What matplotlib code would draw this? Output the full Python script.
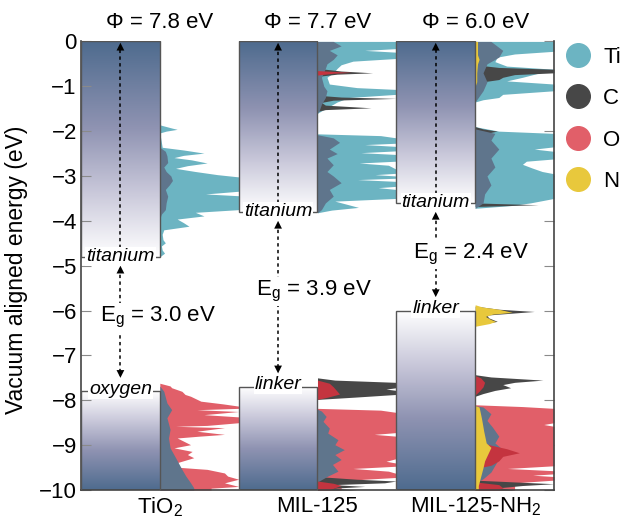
import matplotlib
matplotlib.use('Agg')
import matplotlib.pyplot as plt
import matplotlib as mpl
import numpy as np
from matplotlib.lines import Line2D
from matplotlib.patches import Rectangle

plt.rcParams['font.family'] = ['Liberation Sans', 'DejaVu Sans']
plt.rcParams['mathtext.fontset'] = 'custom'
plt.rcParams['mathtext.rm'] = 'Liberation Sans'
plt.rcParams['mathtext.it'] = 'Liberation Sans:italic'

# materials and band edges (eV)
materials = ['TiO$_2$', 'MIL-125', 'MIL-125-NH$_2$']
work_function = [7.8, 7.7, 6.0]
band_gap = [3.0, 3.9, 2.4]
cb_label = ['titanium', 'titanium', 'titanium']
vb_label = ['oxygen', 'linker', 'linker']
elements = ['Ti', 'C', 'O', 'N']
element_colors = ['#6cb4c2', '#474747', '#e15f69', '#e8c83c']
mix_color = '#5f758c'     # overlap of the partial DOS near the axis
o_dark = '#c4343f'

# --- projected DOS (fraction of panel width) ---
# TiO2
tio2_ti_E = [-1.86, -1.93, -1.96, -2.0, -2.04, -2.36, -2.42, -2.49, -2.54, -2.59,
             -2.64, -2.71, -2.77, -2.83, -2.9, -2.97, -3.02, -3.34, -3.40, -3.44,
             -3.75, -3.81, -3.89, -3.96, -4.04, -4.12, -4.2, -4.3, -4.42, -4.49,
             -4.56, -4.65, -4.72, -4.8]
tio2_ti = [0, 0.15, 0.22, 0.08, 0, 0.03, 0.3, 0.56, 0.3, 0.18,
           0.4, 0.6, 0.35, 0.2, 0.45, 0.73, 1.2, 1.2, 0.58, 1.2,
           1.2, 0.45, 0.56, 0.22, 0.3, 0.37, 0.05, 0.03, 0.04, 0.07,
           0.02, 0.03, 0.06, 0]
tio2_o_E = [-7.62, -7.68, -7.72, -7.8, -7.87, -7.91, -8.02, -8.08, -8.13, -8.18,
            -8.21, -8.25, -8.32, -8.37, -8.50, -8.56, -8.58, -8.61, -8.66, -8.69,
            -8.76, -8.8, -8.84, -8.91, -8.99, -9.06, -9.14, -9.21, -9.28, -9.39,
            -9.47, -9.54, -9.62, -9.69, -9.76, -9.84, -9.92, -9.96, -10]
tio2_o = [0, 0.13, 0.15, 0.28, 0.32, 0.39, 0.52, 0.8, 1.2, 1.2,
          0.47, 1.2, 0.56, 1.2, 1.2, 0.6, 0.2, 0.82, 0.6, 0.47,
          0.82, 0.5, 0.22, 0.3, 0.39, 0.18, 0.41, 0.35, 0.43, 0.22,
          0.05, 0.6, 0.82, 0.86, 1.2, 0.82, 1.2, 0.65, 0.65]
tio2_o_cb_E = [-2.36, -2.45, -2.55, -2.7, -2.8, -2.9, -3.0, -3.1, -3.2, -3.3,
               -3.45, -3.6, -3.75, -3.85, -3.95]
tio2_o_cb = [0, 0.07, 0.09, 0.1, 0.05, 0.08, 0.14, 0.16, 0.12, 0.07,
             0.1, 0.08, 0.07, 0.02, 0]
tio2_ti_vb_E = [-7.68, -7.8, -8.06, -8.21, -8.39, -8.65, -8.84, -9.06, -9.28, -9.54,
                -9.69, -9.84, -9.95, -10]
tio2_ti_vb = [0, 0.05, 0.09, 0.15, 0.09, 0.13, 0.11, 0.13, 0.2, 0.28,
              0.33, 0.39, 0.43, 0.43]

# MIL-125
mil_ti_E = [0, -0.16, -0.2, -0.24, -0.38, -0.44, -0.52, -0.6, -0.7, -0.8,
            -0.95, -1.03, -1.07, -1.18, -1.25, -1.35, -1.45, -1.55, -1.6, -2.06,
            -2.1, -2.15, -2.27, -2.30, -2.34, -2.44, -2.48, -2.52, -2.67, -2.71,
            -2.76, -2.85, -2.94, -2.97, -3.0, -3.05, -3.08, -3.12, -3.23, -3.26,
            -3.3, -3.5, -3.56, -3.62, -3.7, -3.76, -3.82]
mil_ti = [1.2, 1.2, 0.6, 1.2, 1.2, 0.45, 0.3, 0.25, 0.2, 0.12,
          0.15, 0.5, 1.2, 1.2, 0.4, 0.25, 0.15, 0.05, 0, 0,
          0.8, 1.2, 1.2, 0.6, 1.2, 1.2, 0.55, 1.2, 1.2, 0.53,
          0.9, 1.2, 1.2, 0.73, 1.2, 1.2, 0.51, 1.2, 1.2, 0.77,
          1.2, 1.2, 0.22, 0.35, 0.52, 0.18, 0]
mil_o_E = [-8.18, -8.22, -8.27, -8.72, -8.76, -8.8, -9.3, -9.36, -9.4, -9.47,
           -9.52, -9.58, -9.63, -9.72, -9.76, -9.8, -9.86, -9.92, -10]
mil_o = [0, 0.8, 1.2, 1.2, 0.72, 1.2, 1.2, 0.87, 1.2, 1.2,
         0.45, 0.9, 1.2, 1.2, 0.6, 0.3, 0.2, 0.3, 0.3]
mil_c_E = [-0.6, -0.66, -0.70, -0.73, -0.78, -1.2, -1.24, -1.27, -1.31, -1.36,
           -1.42, -1.48, -1.52, -1.56, -7.5, -7.55, -7.6, -7.72, -7.75, -7.78,
           -7.87, -7.93, -7.98, -9.7, -9.76, -9.8, -9.84, -9.88, -9.92, -9.96, -10]
mil_c = [0, 0.3, 0.7, 0.25, 0, 0, 0.3, 1.2, 0.2, 0.05,
         0.1, 0.68, 0.1, 0, 0, 0.22, 1.2, 1.2, 0.87, 1.2,
         1.2, 0.47, 0, 0, 0.5, 1.2, 0.85, 0.2, 0.6, 0.2, 0.5]
mil_o_in_E = [-0.65, -0.69, -0.71, -0.75, -7.55, -7.62, -7.7, -7.8, -7.86, -7.93,
              -7.98, -9.8, -9.85, -9.9, -9.95, -10]
mil_o_in = [0, 0.43, 0.2, 0, 0, 0.15, 0.2, 0.25, 0.28, 0.13,
            0, 0, 0.2, 0.3, 0.22, 0.15]
mil_mix_E = [0, -0.1, -0.2, -0.3, -0.4, -0.5, -0.6, -0.8, -1.0, -1.1,
             -1.25, -1.4, -1.55, -1.6, -2.08, -2.15, -2.25, -2.4, -2.5, -2.6,
             -2.75, -2.9, -3.0, -3.15, -3.3, -3.45, -3.6, -3.75, -3.82,
             -8.2, -8.24, -8.36, -8.47, -8.62, -8.73, -8.88, -8.99, -9.10, -9.21,
             -9.32, -9.43, -9.58, -9.69, -9.77, -9.82]
mil_mix = [0.2, 0.3, 0.15, 0.25, 0.2, 0.12, 0.1, 0.05, 0.08, 0.12,
           0.1, 0.05, 0.02, 0, 0, 0.2, 0.28, 0.15, 0.25, 0.12,
           0.2, 0.12, 0.2, 0.3, 0.15, 0.2, 0.1, 0.05, 0,
           0, 0.05, 0.11, 0.07, 0.15, 0.13, 0.26, 0.22, 0.34, 0.22,
           0.3, 0.19, 0.26, 0.13, 0.05, 0]

# MIL-125-NH2
nh2_ti_E = [0, -0.22, -0.28, -0.35, -0.45, -0.55, -0.62, -0.8, -0.88, -0.95,
            -1.1, -1.18, -1.25, -1.3, -1.35, -1.9, -2.0, -2.05, -2.35, -2.4,
            -2.45, -2.62, -2.67, -2.74, -2.82, -2.9, -2.95, -3.5, -3.55, -3.6,
            -3.66, -3.72]
nh2_ti = [1.2, 1.2, 0.5, 0.28, 0.25, 0.4, 1.2, 0.6, 0.4, 1.2,
          1.2, 0.35, 0.3, 0.1, 0, 0, 0.3, 1.2, 1.2, 0.75,
          1.2, 1.2, 0.65, 0.6, 0.72, 0.85, 1.2, 1.2, 0.85, 0.7,
          0.45, 0]
nh2_o_E = [-8.1, -8.14, -8.18, -8.5, -8.54, -8.58, -9.46, -9.52, -9.57, -9.64,
           -9.67, -9.7, -9.78, -9.84, -10]
nh2_o = [0, 0.6, 1.2, 1.2, 0.87, 1.2, 1.2, 0.41, 1.2, 1.2,
         0.73, 1.2, 1.2, 0.5, 0.5]
nh2_c_E = [-0.52, -0.58, -0.62, -0.7, -0.74, -0.8, -0.85, -0.9, -0.95, -1.9,
           -1.95, -2.0, -2.06, -2.1, -3.6, -3.64, -3.68,
           -5.9, -5.97, -6.02, -6.06, -6.1, -6.16, -6.24, -6.28, -6.32,
           -7.43, -7.48, -7.55, -7.6, -7.65, -7.72, -7.78, -7.85, -7.91,
           -9.78, -9.82, -9.86, -9.9, -9.95, -10]
nh2_c = [0, 0.3, 1.2, 1.2, 0.5, 0.35, 0.3, 0.1, 0, 0,
         0.1, 0.28, 0.1, 0, 0, 0.8, 0,
         0, 0.3, 0.75, 0.45, 0.15, 0.17, 0.28, 0.15, 0,
         0, 0.2, 0.86, 0.5, 0.35, 0.45, 0.25, 0.1, 0,
         0, 0.5, 1.2, 0.6, 0.3, 0.5]
nh2_mix_E = [0, -0.2, -0.35, -0.5, -0.7, -0.9, -1.1, -1.3, -1.35, -1.95,
             -2.05, -2.2, -2.4, -2.6, -2.8, -3.0, -3.2, -3.4, -3.6, -3.72,
             -8.12, -8.15, -8.3, -8.45, -8.6, -8.8, -8.95, -9.1, -9.3, -9.45,
             -9.6, -9.75, -9.85]
nh2_mix = [0.2, 0.35, 0.3, 0.15, 0.1, 0.15, 0.1, 0.02, 0, 0,
           0.25, 0.2, 0.3, 0.2, 0.25, 0.15, 0.2, 0.12, 0.1, 0,
           0, 0.1, 0.2, 0.15, 0.22, 0.3, 0.25, 0.35, 0.3, 0.25,
           0.2, 0.1, 0]
nh2_o_in_E = [-7.45, -7.5, -7.6, -7.7, -7.8, -7.88, -8.9, -9.0, -9.08, -9.17,
              -9.25, -9.35, -9.45, -9.52, -9.82, -9.88, -9.95, -10]
nh2_o_in = [0, 0.07, 0.12, 0.1, 0.05, 0, 0, 0.2, 0.4, 0.56,
            0.35, 0.3, 0.2, 0, 0, 0.3, 0.35, 0.3]
nh2_n_E = [0, -0.3, -0.4, -0.5, -0.7, -0.9, -1.0,
           -5.87, -5.92, -5.97, -6.04, -6.08, -6.13, -6.2, -6.24, -6.29, -6.35,
           -8.12, -8.15, -8.4, -8.7, -8.95, -9.05, -9.2, -9.35, -9.5, -9.7, -9.9, -10]
nh2_n = [0.03, 0.03, 0.05, 0.03, 0.02, 0.02, 0,
         0, 0.09, 0.3, 0.47, 0.22, 0.13, 0.2, 0.26, 0.18, 0,
         0, 0.05, 0.08, 0.11, 0.14, 0.2, 0.16, 0.12, 0.1, 0.07, 0.04, 0.04]

ti_c, c_c, o_c, n_c = element_colors
layers = [
    [(tio2_ti_E, tio2_ti, ti_c), (tio2_o_E, tio2_o, o_c),
     (tio2_o_cb_E, tio2_o_cb, mix_color), (tio2_ti_vb_E, tio2_ti_vb, mix_color)],
    [(mil_ti_E, mil_ti, ti_c), (mil_o_E, mil_o, o_c), (mil_c_E, mil_c, c_c),
     (mil_mix_E, mil_mix, mix_color), (mil_o_in_E, mil_o_in, o_dark)],
    [(nh2_ti_E, nh2_ti, ti_c), (nh2_o_E, nh2_o, o_c), (nh2_c_E, nh2_c, c_c),
     (nh2_mix_E, nh2_mix, mix_color), (nh2_o_in_E, nh2_o_in, o_dark),
     (nh2_n_E, nh2_n, n_c)],
]

band_cmap = mpl.colors.LinearSegmentedColormap.from_list(
    'band', [(0, '#ffffff'), (0.3, '#c9c8da'), (0.6, '#8f93b2'), (1, '#4e6b8e')])
grad = np.linspace(0, 1, 256).reshape(-1, 1)

fig = plt.figure(figsize=(6.24, 5.21), dpi=100)
ax = fig.add_axes([0.1298, 0.0595, 0.758, 0.861])
edge = '#555555'

for i, name in enumerate(materials):
    x0 = 2 * i
    vbm = -work_function[i]
    cbm = vbm + band_gap[i]

    # gradient boxes for conduction and valence band
    ax.imshow(grad, extent=[x0, x0 + 1, cbm, 0], origin='lower', cmap=band_cmap,
              aspect='auto', zorder=1)
    ax.imshow(grad[::-1], extent=[x0, x0 + 1, -10, vbm], origin='lower', cmap=band_cmap,
              aspect='auto', zorder=1)
    ax.add_patch(Rectangle((x0, cbm), 1, -cbm, fill=False, ec=edge, lw=1, zorder=3))
    ax.add_patch(Rectangle((x0, -10), 1, vbm + 10, fill=False, ec=edge, lw=1, zorder=3))

    # projected DOS next to the box
    for E, V, col in layers[i]:
        ax.fill_betweenx(E, x0 + 1, x0 + 1 + np.minimum(V, 1.0), color=col, lw=0, zorder=2)

    ax.text(x0 + 0.5, cbm, cb_label[i], ha='center', va='center', fontsize=14,
            style='italic', zorder=5,
            bbox=dict(boxstyle='square,pad=0.05', fc='white', ec='none'))
    ax.text(x0 + 0.5, vbm + 0.05, vb_label[i], ha='center', va='center', fontsize=14,
            style='italic', zorder=5,
            bbox=dict(boxstyle='square,pad=0.05', fc='white', ec='none'))

    # dashed arrows: work function and gap
    xm = x0 + 0.5
    ax.plot([xm, xm], [cbm + 0.2, -0.1], ls=(0, (2.2, 2.2)), color='k', lw=1.1, zorder=4)
    ax.plot([xm, xm], [cbm - 0.25, vbm + 0.35], ls=(0, (2.2, 2.2)), color='k', lw=1.1, zorder=4)
    heads = [(-0.03, -0.3), (cbm - 0.2, cbm - 0.5), (vbm + 0.3, vbm + 0.6)]
    for tip, tail in heads:
        ax.annotate('', xy=(xm, tip), xytext=(xm, tail),
                    arrowprops=dict(arrowstyle='-|>', color='k', lw=0,
                                    mutation_scale=14, shrinkA=0, shrinkB=0), zorder=4)

    ax.text(x0 + 1, 0.42, '\u03a6 = %.1f eV' % work_function[i], ha='center',
            va='center', fontsize=16)

eg_pos = [(0.98, -6.15), (2.95, -5.58), (4.95, -4.75)]
for (ex, ey), eg in zip(eg_pos, band_gap):
    ax.text(ex, ey, 'E$_\\mathrm{g}$ = %.1f eV' % eg, ha='center', va='center',
            fontsize=16, zorder=6,
            bbox=dict(boxstyle='square,pad=0.1', fc='white', ec='none'))

ax.set_xlim(0, 6)
ax.set_ylim(-10, 0)
ax.set_xticks([1, 3, 5])
ax.set_xticklabels(materials, fontsize=16)
ax.tick_params(axis='x', length=0, pad=4)
ax.set_yticks(range(-10, 1))
ax.set_yticklabels(['\u2212%d' % -v if v < 0 else '0' for v in range(-10, 1)], fontsize=16)
ax.tick_params(axis='y', direction='in', length=7, color='#8a8a8a', right=True, pad=3)
ax.set_ylabel('Vacuum aligned energy (eV)', fontsize=16.5)
ax.yaxis.set_label_coords(-0.112, 0.49)
ax.spines['top'].set_visible(False)
for s in ['left', 'right', 'bottom']:
    ax.spines[s].set_color('#444444')
    ax.spines[s].set_linewidth(1.2)

handles = [Line2D([], [], marker='o', ls='', markersize=17, color=c) for c in element_colors]
ax.legend(handles, elements, loc='upper left', bbox_to_anchor=(1.022, 0.988), frameon=False,
          fontsize=16, handletextpad=0.55, labelspacing=0.92, handlelength=1.2,
          borderpad=0, borderaxespad=0)

fig.savefig('out.png', dpi=100)
